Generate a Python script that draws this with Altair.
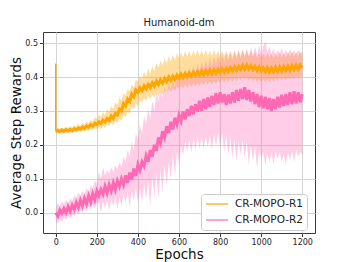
import altair as alt
import pandas as pd

# epochs sampled every 10
epochs = list(range(0, 1201, 10))
series_names = ["CR-MOPO-R1", "CR-MOPO-R2"]
colors = ["#FFA500", "#FF69B4"]
x_ticks = [0, 200, 400, 600, 800, 1000, 1200]
y_ticks = [0.0, 0.1, 0.2, 0.3, 0.4, 0.5]

# initial spike of R1 at epoch 0
spike_epoch = [0]
spike_top = [0.44]
spike_bottom = [0.24]

r1_mean = [
    0.240, 0.243, 0.239, 0.244, 0.240, 0.245, 0.241, 0.246, 0.242, 0.248, 0.244,
    0.250, 0.246, 0.253, 0.249, 0.256, 0.252, 0.260, 0.255, 0.264, 0.260,
    0.268, 0.263, 0.273, 0.267, 0.278, 0.272, 0.285, 0.278, 0.292, 0.288,
    0.305, 0.300, 0.322, 0.315, 0.335, 0.328, 0.350, 0.342, 0.362, 0.355,
    0.368, 0.360, 0.374, 0.365, 0.378, 0.369, 0.383, 0.373, 0.388, 0.378,
    0.392, 0.382, 0.396, 0.386, 0.400, 0.390, 0.403, 0.393, 0.406, 0.397,
    0.409, 0.399, 0.411, 0.401, 0.413, 0.403, 0.415, 0.405, 0.416, 0.406,
    0.418, 0.407, 0.419, 0.409, 0.421, 0.410, 0.422, 0.411, 0.423, 0.413,
    0.425, 0.414, 0.426, 0.416, 0.428, 0.418, 0.430, 0.420, 0.432, 0.422,
    0.435, 0.424, 0.436, 0.424, 0.434, 0.422, 0.432, 0.420, 0.430, 0.418,
    0.428, 0.416, 0.428, 0.415, 0.427, 0.416, 0.429, 0.417, 0.430, 0.418,
    0.431, 0.419, 0.432, 0.420, 0.434, 0.422, 0.435, 0.423, 0.436, 0.428,
]
r1_hi = [
    0.246, 0.250, 0.246, 0.252, 0.248, 0.254, 0.249, 0.256, 0.251, 0.258, 0.254,
    0.262, 0.256, 0.266, 0.259, 0.270, 0.263, 0.275, 0.268, 0.282, 0.276,
    0.290, 0.282, 0.298, 0.288, 0.305, 0.296, 0.315, 0.305, 0.325, 0.318,
    0.340, 0.332, 0.352, 0.345, 0.365, 0.358, 0.378, 0.370, 0.392, 0.385,
    0.405, 0.395, 0.415, 0.402, 0.425, 0.410, 0.432, 0.418, 0.440, 0.428,
    0.448, 0.435, 0.455, 0.440, 0.462, 0.446, 0.466, 0.450, 0.470, 0.455,
    0.474, 0.458, 0.476, 0.460, 0.478, 0.460, 0.478, 0.462, 0.480, 0.462,
    0.478, 0.462, 0.480, 0.463, 0.478, 0.462, 0.480, 0.464, 0.478, 0.463,
    0.476, 0.462, 0.478, 0.462, 0.476, 0.460, 0.478, 0.462, 0.478, 0.464,
    0.480, 0.464, 0.478, 0.462, 0.476, 0.460, 0.474, 0.458, 0.472, 0.458,
    0.470, 0.456, 0.472, 0.458, 0.470, 0.456, 0.472, 0.458, 0.472, 0.458,
    0.472, 0.458, 0.474, 0.460, 0.474, 0.460, 0.474, 0.460, 0.474, 0.462,
]
r1_lo = [
    0.236, 0.234, 0.236, 0.235, 0.235, 0.237, 0.235, 0.238, 0.236, 0.239, 0.237,
    0.241, 0.238, 0.242, 0.240, 0.244, 0.241, 0.246, 0.243, 0.249, 0.246,
    0.252, 0.247, 0.256, 0.250, 0.260, 0.254, 0.265, 0.258, 0.270, 0.264,
    0.276, 0.270, 0.288, 0.282, 0.298, 0.290, 0.312, 0.305, 0.322, 0.315,
    0.332, 0.325, 0.338, 0.330, 0.344, 0.335, 0.348, 0.340, 0.352, 0.345,
    0.356, 0.348, 0.360, 0.352, 0.365, 0.356, 0.368, 0.360, 0.372, 0.364,
    0.376, 0.366, 0.378, 0.368, 0.380, 0.370, 0.382, 0.372, 0.384, 0.374,
    0.386, 0.376, 0.388, 0.378, 0.388, 0.378, 0.390, 0.380, 0.390, 0.382,
    0.392, 0.382, 0.394, 0.384, 0.396, 0.386, 0.398, 0.388, 0.400, 0.390,
    0.402, 0.392, 0.400, 0.390, 0.398, 0.388, 0.396, 0.386, 0.394, 0.384,
    0.394, 0.384, 0.395, 0.385, 0.396, 0.386, 0.398, 0.388, 0.400, 0.390,
    0.400, 0.390, 0.402, 0.392, 0.403, 0.393, 0.404, 0.394, 0.405, 0.396,
]
r2_mean = [
    0.000, -0.010, 0.008, -0.002, 0.012, 0.000, 0.018, 0.004, 0.022, 0.010, 0.030,
    0.015, 0.036, 0.020, 0.042, 0.026, 0.050, 0.032, 0.056, 0.038, 0.064,
    0.050, 0.068, 0.054, 0.078, 0.058, 0.082, 0.064, 0.088, 0.068, 0.094,
    0.078, 0.100, 0.082, 0.110, 0.088, 0.118, 0.098, 0.130, 0.108, 0.142,
    0.125, 0.150, 0.138, 0.168, 0.150, 0.185, 0.165, 0.200, 0.182, 0.222,
    0.205, 0.240, 0.222, 0.255, 0.235, 0.268, 0.245, 0.280, 0.260, 0.288,
    0.270, 0.298, 0.275, 0.305, 0.285, 0.315, 0.290, 0.320, 0.298, 0.330,
    0.300, 0.335, 0.305, 0.340, 0.312, 0.345, 0.318, 0.352, 0.322, 0.355,
    0.325, 0.350, 0.318, 0.348, 0.322, 0.355, 0.325, 0.362, 0.330, 0.365,
    0.335, 0.370, 0.332, 0.362, 0.328, 0.355, 0.320, 0.350, 0.312, 0.345,
    0.308, 0.342, 0.305, 0.338, 0.300, 0.335, 0.305, 0.342, 0.310, 0.348,
    0.315, 0.350, 0.318, 0.355, 0.320, 0.358, 0.322, 0.355, 0.325, 0.350,
]
r2_hi = [
    0.015, 0.028, 0.020, 0.032, 0.025, 0.038, 0.030, 0.042, 0.035, 0.050, 0.045,
    0.058, 0.050, 0.065, 0.055, 0.072, 0.062, 0.080, 0.070, 0.095, 0.085,
    0.120, 0.100, 0.135, 0.110, 0.125, 0.115, 0.135, 0.120, 0.140, 0.128,
    0.150, 0.135, 0.165, 0.150, 0.185, 0.165, 0.210, 0.185, 0.235, 0.215,
    0.260, 0.235, 0.285, 0.260, 0.305, 0.280, 0.330, 0.300, 0.355, 0.330,
    0.360, 0.340, 0.372, 0.350, 0.385, 0.362, 0.395, 0.372, 0.405, 0.385,
    0.412, 0.392, 0.420, 0.398, 0.428, 0.405, 0.435, 0.410, 0.440, 0.418,
    0.445, 0.422, 0.450, 0.428, 0.455, 0.432, 0.460, 0.438, 0.462, 0.440,
    0.468, 0.445, 0.472, 0.448, 0.475, 0.450, 0.478, 0.452, 0.480, 0.455,
    0.482, 0.458, 0.485, 0.460, 0.488, 0.462, 0.490, 0.465, 0.495, 0.468,
    0.490, 0.505, 0.475, 0.490, 0.468, 0.485, 0.465, 0.480, 0.470, 0.485,
    0.465, 0.480, 0.468, 0.482, 0.470, 0.478, 0.468, 0.480, 0.472, 0.475,
]
r2_lo = [
    -0.025, -0.032, -0.020, -0.028, -0.015, -0.022, -0.010, -0.018, -0.005, -0.012, 0.002,
    -0.004, 0.008, 0.000, 0.012, 0.004, 0.018, 0.008, 0.025, 0.012, 0.030,
    0.028, 0.000, 0.032, 0.015, 0.035, 0.005, 0.040, 0.020, 0.045, 0.010,
    0.048, 0.020, 0.055, 0.030, 0.060, 0.015, 0.065, 0.035, 0.075, 0.030,
    0.070, 0.030, 0.085, 0.040, 0.095, 0.020, 0.105, 0.050, 0.115, 0.040,
    0.125, 0.060, 0.140, 0.080, 0.150, 0.100, 0.170, 0.110, 0.180, 0.140,
    0.200, 0.170, 0.210, 0.180, 0.215, 0.175, 0.220, 0.185, 0.225, 0.190,
    0.220, 0.190, 0.225, 0.195, 0.228, 0.185, 0.232, 0.195, 0.238, 0.190,
    0.235, 0.180, 0.230, 0.170, 0.220, 0.160, 0.215, 0.150, 0.210, 0.170,
    0.215, 0.160, 0.210, 0.140, 0.200, 0.150, 0.195, 0.130, 0.185, 0.160,
    0.180, 0.140, 0.175, 0.150, 0.178, 0.140, 0.182, 0.160, 0.178, 0.150,
    0.172, 0.140, 0.178, 0.155, 0.182, 0.150, 0.186, 0.165, 0.178, 0.170,
]

df = pd.concat([
    pd.DataFrame({"epoch": epochs, "series": series_names[0], "mean": r1_mean, "lo": r1_lo, "hi": r1_hi}),
    pd.DataFrame({"epoch": epochs, "series": series_names[1], "mean": r2_mean, "lo": r2_lo, "hi": r2_hi}),
], ignore_index=True)
spike_df = pd.DataFrame({"epoch": spike_epoch, "top": spike_top, "bottom": spike_bottom})

x_scale = alt.Scale(domain=[-62, 1262], nice=False, zero=False)
y_scale = alt.Scale(domain=[-0.06, 0.533], nice=False, zero=False)
c_scale = alt.Scale(domain=series_names, range=colors)

x_enc = alt.X("epoch:Q", scale=x_scale, title="Epochs",
              axis=alt.Axis(values=x_ticks, format="d"))
y_enc = alt.Y("mean:Q", scale=y_scale, title="Average Step Rewards",
              axis=alt.Axis(values=y_ticks, format=".1f"))

base = alt.Chart(df)


def band_layer(name, color, opacity):
    return base.transform_filter(alt.datum.series == name).mark_area(
        opacity=opacity, line=False, color=color
    ).encode(
        x=alt.X("epoch:Q", scale=x_scale),
        y=alt.Y("lo:Q", scale=y_scale),
        y2="hi:Q",
    )


band1 = band_layer(series_names[0], colors[0], 0.38)
band2 = band_layer(series_names[1], colors[1], 0.33)

lines = base.mark_line(strokeWidth=3).encode(
    x=x_enc,
    y=y_enc,
    color=alt.Color("series:N", scale=c_scale, title=None,
                    legend=alt.Legend(orient="none", legendX=158, legendY=162,
                                      symbolType="stroke", symbolSize=484,
                                      symbolStrokeWidth=1.5, symbolOpacity=0.8,
                                      clipHeight=12,
                                      labelFontSize=10.5, labelColor="#222",
                                      labelFont="DejaVu Sans", labelOffset=6,
                                      rowPadding=4, padding=4,
                                      strokeColor="#cccccc", fillColor="#ffffff",
                                      cornerRadius=3)),
)

spike = alt.Chart(spike_df).mark_rule(color="#FFA500", strokeWidth=1.5).encode(
    x=alt.X("epoch:Q", scale=x_scale),
    y=alt.Y("top:Q", scale=y_scale),
    y2="bottom:Q",
)

chart = alt.layer(band1, band2, spike, lines).properties(
    width=272, height=201,
    title=alt.TitleParams("Humanoid-dm", fontSize=10, font="DejaVu Sans",
                          fontWeight="normal", color="#222", offset=4),
    autosize="none",
    padding={"left": 35, "top": 24, "right": 26, "bottom": 30},
).configure_view(
    stroke="#3a3a3a", strokeWidth=1
).configure_axis(
    labelFont="DejaVu Sans", labelFontSize=8, labelColor="#222",
    titleFont="DejaVu Sans", titleFontSize=13.5, titleFontWeight="normal", titleColor="#111",
    grid=True, gridColor="#d4d4d4", gridWidth=1,
    domain=False, tickColor="#333", tickSize=3.5, labelPadding=2,
).configure_axisX(
    titlePadding=1
).configure_axisY(
    titlePadding=1
)

chart.save("out.html", embed_options={"renderer": "svg", "actions": False})
